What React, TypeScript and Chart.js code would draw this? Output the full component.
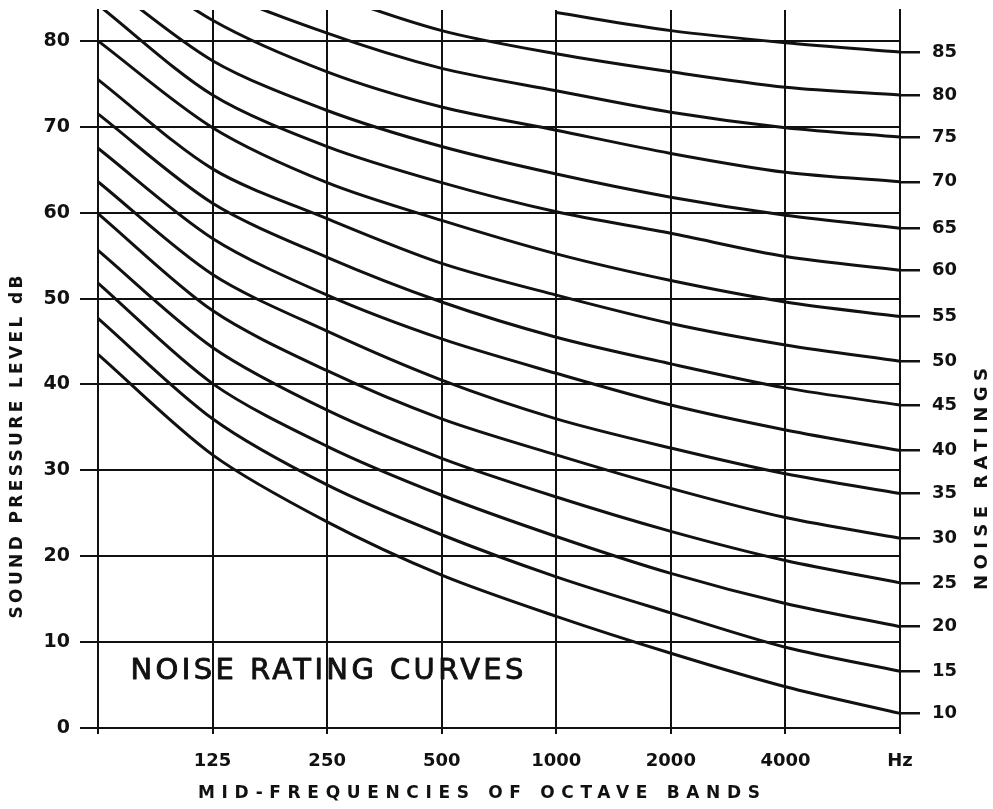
import React, { useEffect, useRef } from 'react';
import { Chart, registerables } from 'chart.js';

Chart.register(...registerables);

// Octave band mid-frequencies (Hz); the first band is unlabeled, the last shows "Hz"
const FREQUENCIES = [63, 125, 250, 500, 1000, 2000, 4000, 8000];
const X_TICK_LABELS = ['', '125', '250', '500', '1000', '2000', '4000', 'Hz'];

// Sound pressure level axis (dB)
const Y_TICKS = [0, 10, 20, 30, 40, 50, 60, 70, 80];
const Y_MIN = 0;
const Y_MAX = 83.6;

// Noise rating numbers (right-hand labels)
const NR_LABELS = [10, 15, 20, 25, 30, 35, 40, 45, 50, 55, 60, 65, 70, 75, 80, 85];

// Curve values (dB) at 63, 125, 250, 500, 1000, 2000, 4000, 8000 Hz
const NR10 = [43.5, 31.8, 24.0, 17.8, 13.0, 8.7, 4.8, 1.7];
const NR15 = [47.7, 36.0, 28.3, 22.5, 17.6, 13.4, 9.4, 6.6];
const NR20 = [51.8, 40.1, 32.8, 27.1, 22.3, 18.0, 14.5, 11.8];
const NR25 = [55.6, 44.3, 37.0, 31.4, 26.9, 22.9, 19.5, 16.9];
const NR30 = [59.9, 48.6, 41.6, 36.0, 31.8, 27.9, 24.5, 22.1];
const NR35 = [63.6, 52.8, 46.2, 40.5, 36.0, 32.6, 29.6, 27.3];
const NR40 = [67.5, 57.0, 50.4, 45.3, 41.3, 37.6, 34.7, 32.3];
const NR45 = [71.5, 61.1, 54.8, 49.6, 45.5, 42.4, 39.6, 37.6];
const NR50 = [75.5, 65.1, 59.3, 54.1, 50.4, 47.1, 44.6, 42.7];
const NR55 = [80.0, 69.9, 63.5, 59.1, 55.2, 52.1, 49.6, 47.9];
const NR60 = [84.2, 73.7, 67.7, 63.5, 60.1, 57.6, 54.9, 53.3];
const NR65 = [87.5, 77.7, 71.9, 67.7, 64.5, 61.8, 59.7, 58.2];
const NR70 = [91.5, 82.4, 76.4, 72.3, 69.6, 66.9, 64.7, 63.6];
const NR75 = [95.5, 86.3, 80.9, 76.8, 74.2, 71.7, 69.9, 68.8];
const NR80 = [100.0, 91.0, 85.6, 81.2, 78.5, 76.4, 74.6, 73.7];
const NR85 = [null, null, null, null, 83.3, 81.2, 79.8, 78.7];

const SERIES = [NR10, NR15, NR20, NR25, NR30, NR35, NR40, NR45, NR50, NR55, NR60, NR65, NR70, NR75, NR80, NR85];

const X_TITLE = 'MID-FREQUENCIES OF OCTAVE BANDS';
const Y_TITLE = 'SOUND PRESSURE LEVEL dB';
const NR_TITLE = 'NOISE RATINGS';
const CHART_LABEL = 'NOISE RATING CURVES';

const INK = '#111111';
const FONT = '"DejaVu Sans", "Liberation Sans", sans-serif';

function drawSpaced(
  ctx: CanvasRenderingContext2D,
  text: string,
  cx: number,
  cy: number,
  span: number,
  font: string,
  angle: number,
  thicken = 0
) {
  ctx.save();
  ctx.font = font;
  (ctx as any).letterSpacing = '0px';
  const w = ctx.measureText(text).width;
  const n = Array.from(text).length;
  const sp = n > 1 ? (span - w) / (n - 1) : 0;
  (ctx as any).letterSpacing = sp + 'px';
  ctx.translate(cx, cy);
  ctx.rotate(angle);
  ctx.fillStyle = INK;
  ctx.strokeStyle = INK;
  ctx.textAlign = 'left';
  ctx.textBaseline = 'middle';
  ctx.fillText(text, -span / 2, 0);
  if (thicken > 0) {
    ctx.lineWidth = thicken;
    ctx.lineJoin = 'round';
    ctx.strokeText(text, -span / 2, 0);
  }
  ctx.restore();
}

const textPlugin = {
  id: 'nrTexts',
  afterDraw(chart: any) {
    const ctx = chart.ctx as CanvasRenderingContext2D;
    const a = chart.chartArea;
    drawSpaced(ctx, X_TITLE, a.left + 381, a.bottom + 66, 562, `bold 17px ${FONT}`, 0);
    drawSpaced(ctx, Y_TITLE, 18, a.top + 437, 343, `bold 17px ${FONT}`, -Math.PI / 2);
    drawSpaced(ctx, NR_TITLE, a.right + 82, a.top + 469, 222, `bold 18px ${FONT}`, -Math.PI / 2);
    drawSpaced(ctx, CHART_LABEL, a.left + 229, a.bottom - 57, 393, `29px ${FONT}`, 0, 0.9);
  },
};

export default function App() {
  const ref = useRef<HTMLCanvasElement | null>(null);

  useEffect(() => {
    if (!ref.current) return;
    const nrEnds = SERIES.map((s) => s[s.length - 1] as number);
    const chart = new Chart(ref.current, {
      type: 'line',
      data: {
        labels: X_TICK_LABELS,
        datasets: SERIES.map((s, i) => ({
          label: 'NR ' + NR_LABELS[i],
          data: s,
          borderColor: INK,
          borderWidth: 3,
          pointRadius: 0,
          fill: false,
          tension: 0.3,
          yAxisID: 'y',
        })),
      },
      options: {
        responsive: false,
        animation: false,
        devicePixelRatio: 1,
        layout: { padding: { top: 10, left: 0, right: 0, bottom: 0 } },
        plugins: { legend: { display: false }, tooltip: { enabled: false }, title: { display: false } },
        scales: {
          x: {
            type: 'category',
            offset: false,
            grid: { color: INK, lineWidth: 2, tickLength: 6, drawTicks: true },
            border: { display: true, color: INK, width: 2 },
            ticks: {
              color: INK,
              font: { family: FONT, weight: 'bold', size: 18 },
              padding: 17,
              maxRotation: 0,
              autoSkip: false,
            },
            afterFit: (scale: any) => {
              scale.height = 81;
              scale.paddingLeft = 0;
              scale.paddingRight = 0;
            },
          },
          y: {
            type: 'linear',
            position: 'left',
            min: Y_MIN,
            max: Y_MAX,
            afterBuildTicks: (scale: any) => { scale.ticks = Y_TICKS.map((v) => ({ value: v })); },
            grid: { color: INK, lineWidth: 2, tickLength: 18, drawTicks: true },
            border: { display: true, color: INK, width: 2 },
            ticks: {
              color: INK,
              font: { family: FONT, weight: 'bold', size: 19 },
              padding: 10,
              autoSkip: false,
            },
            afterFit: (scale: any) => {
              scale.width = 98;
              scale.paddingTop = 0;
              scale.paddingBottom = 0;
            },
          },
          nr: {
            type: 'linear',
            position: 'right',
            min: Y_MIN,
            max: Y_MAX,
            afterBuildTicks: (scale: any) => { scale.ticks = nrEnds.map((v) => ({ value: v })); },
            grid: { color: INK, lineWidth: 2.5, tickLength: 20, drawOnChartArea: false, drawTicks: true },
            border: { display: true, color: INK, width: 2 },
            ticks: {
              color: INK,
              font: { family: FONT, weight: 'bold', size: 18 },
              padding: 12,
              autoSkip: false,
              callback: (_v: any, i: number) => String(NR_LABELS[i]),
            },
            afterFit: (scale: any) => {
              scale.width = 93;
              scale.paddingTop = 0;
              scale.paddingBottom = 0;
            },
          },
        },
      },
      plugins: [textPlugin],
    } as any);
    return () => chart.destroy();
  }, []);

  return (
    <div style={{ position: 'absolute', left: 0, top: 0, width: 993, height: 809, background: '#fff' }}>
      <canvas ref={ref} width={993} height={809} style={{ width: 993, height: 809, display: 'block' }} />
    </div>
  );
}
